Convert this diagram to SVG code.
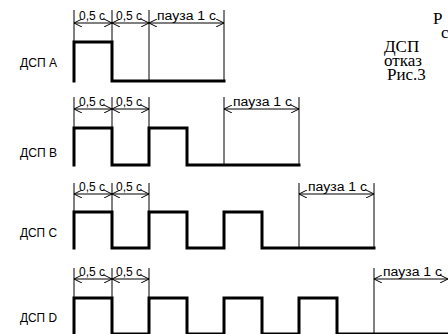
<svg xmlns="http://www.w3.org/2000/svg" width="448" height="334" viewBox="0 0 448 334">
<defs>
<style>
.sig{fill:none;stroke:#000;stroke-width:3;stroke-linejoin:miter;stroke-linecap:square}
.ext{fill:none;stroke:#000;stroke-width:1}
.dim{fill:none;stroke:#000;stroke-width:1}
.lbl{font-family:"Liberation Sans",Arial,sans-serif;font-size:13px;fill:#000}
.dt{font-family:"Liberation Sans",Arial,sans-serif;font-size:12px;fill:#000}
.cap{font-family:"Liberation Serif","Times New Roman",serif;font-size:17px;fill:#000}
</style>
<marker id="ah" viewBox="0 0 8 8" refX="8" refY="4" markerWidth="8" markerHeight="8" markerUnits="userSpaceOnUse" orient="auto-start-reverse">
<path d="M0,0 L8,4 L0,8" fill="none" stroke="#000" stroke-width="1"/>
</marker>
</defs>
<rect width="448" height="334" fill="#fff"/>

<g id="caption">
<text class="cap" x="433" y="24">Р</text>
<text class="cap" x="441" y="38">с</text>
<text class="cap" x="384" y="52">ДСП</text>
<text class="cap" x="384" y="66">отказ</text>
<text class="cap" x="387" y="80">Рис.3</text>
</g>

<g id="dspA">
<text class="lbl" x="20" y="67" textLength="37" lengthAdjust="spacingAndGlyphs">ДСП A</text>
<path class="sig" d="M74,81 V42 H112 V81 H224"/>
</g>
<g id="dspB">
<text class="lbl" x="20" y="157" textLength="37" lengthAdjust="spacingAndGlyphs">ДСП B</text>
<path class="sig" d="M74,165 V128 H112 V165 H149 V128 H187 V165 H299"/>
</g>
<g id="dspC">
<text class="lbl" x="20" y="237" textLength="37" lengthAdjust="spacingAndGlyphs">ДСП C</text>
<path class="sig" d="M74,248 V212 H112 V248 H149 V212 H187 V248 H224 V212 H262 V248 H374"/>
</g>
<g id="dspD">
<text class="lbl" x="20" y="322" textLength="37" lengthAdjust="spacingAndGlyphs">ДСП D</text>
<path class="sig" d="M74,334 V298 H112 V334 H149 V298 H187 V334 H224 V298 H262 V334 H299 V298 H337 V334 H449"/>
</g>

<g id="connectors">
<!-- row A -->
<path class="ext" d="M74,10 V42 M112,10 V42 M149,10 V81 M224,10 V81"/>
<path class="dim" d="M74,23 H112" marker-start="url(#ah)" marker-end="url(#ah)"/>
<path class="dim" d="M112,23 H149" marker-start="url(#ah)" marker-end="url(#ah)"/>
<path class="dim" d="M149,23 H224" marker-start="url(#ah)" marker-end="url(#ah)"/>
<text class="dt" x="79" y="20">0,5 с</text>
<text class="dt" x="116" y="20">0,5 с</text>
<text class="dt" x="157" y="20" textLength="59" lengthAdjust="spacingAndGlyphs">пауза 1 с</text>
<!-- row B -->
<path class="ext" d="M74,97 V128 M112,97 V128 M149,97 V128 M224,97 V165 M299,97 V165"/>
<path class="dim" d="M74,109 H112" marker-start="url(#ah)" marker-end="url(#ah)"/>
<path class="dim" d="M112,109 H149" marker-start="url(#ah)" marker-end="url(#ah)"/>
<path class="dim" d="M224,109 H299" marker-start="url(#ah)" marker-end="url(#ah)"/>
<text class="dt" x="79" y="106">0,5 с</text>
<text class="dt" x="116" y="106">0,5 с</text>
<text class="dt" x="233" y="106" textLength="59" lengthAdjust="spacingAndGlyphs">пауза 1 с</text>
<!-- row C -->
<path class="ext" d="M74,183 V212 M112,183 V212 M149,183 V212 M299,183 V248 M374,183 V248"/>
<path class="dim" d="M74,194 H112" marker-start="url(#ah)" marker-end="url(#ah)"/>
<path class="dim" d="M112,194 H149" marker-start="url(#ah)" marker-end="url(#ah)"/>
<path class="dim" d="M299,194 H374" marker-start="url(#ah)" marker-end="url(#ah)"/>
<text class="dt" x="79" y="191">0,5 с</text>
<text class="dt" x="116" y="191">0,5 с</text>
<text class="dt" x="308" y="191" textLength="59" lengthAdjust="spacingAndGlyphs">пауза 1 с</text>
<!-- row D -->
<path class="ext" d="M74,268 V298 M112,268 V298 M149,268 V298 M374,268 V334"/>
<path class="dim" d="M74,279 H112" marker-start="url(#ah)" marker-end="url(#ah)"/>
<path class="dim" d="M112,279 H149" marker-start="url(#ah)" marker-end="url(#ah)"/>
<path class="dim" d="M374,279 H448" marker-start="url(#ah)" marker-end="url(#ah)"/>
<text class="dt" x="79" y="276">0,5 с</text>
<text class="dt" x="116" y="276">0,5 с</text>
<text class="dt" x="383" y="276" textLength="59" lengthAdjust="spacingAndGlyphs">пауза 1 с</text>
</g>
</svg>
